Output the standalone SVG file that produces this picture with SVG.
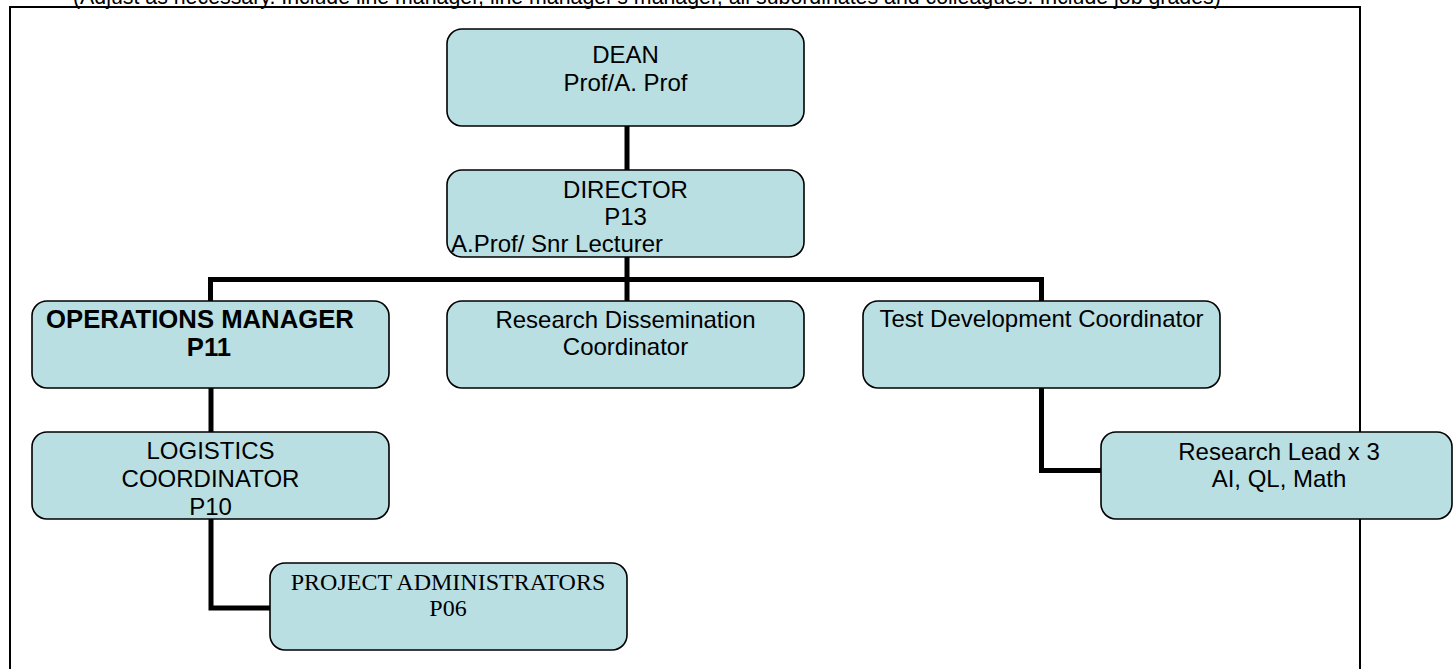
<svg xmlns="http://www.w3.org/2000/svg" width="1453" height="669" viewBox="0 0 1453 669">
<style>
.box{fill:#B9DFE3;stroke:#000;stroke-width:1.6}
.t{font-family:"Liberation Sans",Arial,sans-serif;font-size:24px;fill:#000;text-anchor:middle}
.b{font-weight:bold;font-size:25.7px}
.serif{font-family:"Liberation Serif","Times New Roman",serif}
.conn{fill:none;stroke:#000;stroke-width:5;stroke-linejoin:miter;stroke-linecap:butt}
.frame{fill:none;stroke:#000;stroke-width:2}
</style>
<rect class="frame" x="10" y="7" width="1350" height="720"/>
<text x="73" y="3.5" font-family="'Liberation Sans',Arial,sans-serif" font-size="21.33" fill="#000">(Adjust as necessary. Include line manager, line manager's manager, all subordinates and colleagues. Include job grades)</text>
<g id="connectors">
<path class="conn" d="M627 126V170"/>
<path class="conn" d="M627 257V279.5"/>
<path class="conn" d="M210.5 301V279.5H1041.5V301"/>
<path class="conn" d="M627 279.5V301"/>
<path class="conn" d="M211 388V432"/>
<path class="conn" d="M211 519V608H270"/>
<path class="conn" d="M1041.5 388V470.5H1101"/>
</g>
<g id="dean">
<rect class="box" x="447" y="29" width="357" height="97" rx="15"/>
<text class="t" x="625.5" y="62.5">DEAN</text>
<text class="t" x="625.5" y="90.5">Prof/A. Prof</text>
</g>
<g id="director">
<rect class="box" x="447" y="170" width="357" height="87" rx="15"/>
<text class="t" x="625.5" y="197.5">DIRECTOR</text>
<text class="t" x="625.5" y="224.5">P13</text>
<text class="t" x="451" y="251.5" style="text-anchor:start">A.Prof/ Snr Lecturer</text>
</g>
<g id="operations-manager">
<rect class="box" x="32" y="301" width="357" height="87" rx="15"/>
<text class="t b" x="200" y="327.5">OPERATIONS MANAGER</text>
<text class="t b" x="209" y="356">P11</text>
</g>
<g id="research-dissemination">
<rect class="box" x="447" y="301" width="357" height="87" rx="15"/>
<text class="t" x="625.5" y="328">Research Dissemination</text>
<text class="t" x="625.5" y="355">Coordinator</text>
</g>
<g id="test-development">
<rect class="box" x="863" y="301" width="357" height="87" rx="15"/>
<text class="t" x="1041.5" y="326.5">Test Development Coordinator</text>
</g>
<g id="logistics">
<rect class="box" x="32" y="432" width="357" height="87" rx="15"/>
<text class="t" x="210.5" y="459">LOGISTICS</text>
<text class="t" x="210.5" y="487">COORDINATOR</text>
<text class="t" x="210.5" y="515">P10</text>
</g>
<g id="research-lead">
<rect class="box" x="1101" y="432" width="351" height="87" rx="15"/>
<text class="t" x="1279" y="460">Research Lead x 3</text>
<text class="t" x="1279" y="487">AI, QL, Math</text>
</g>
<g id="project-administrators">
<rect class="box" x="270" y="563" width="357" height="87" rx="15"/>
<text class="t serif" x="448" y="590">PROJECT ADMINISTRATORS</text>
<text class="t serif" x="448" y="616">P06</text>
</g>
</svg>
